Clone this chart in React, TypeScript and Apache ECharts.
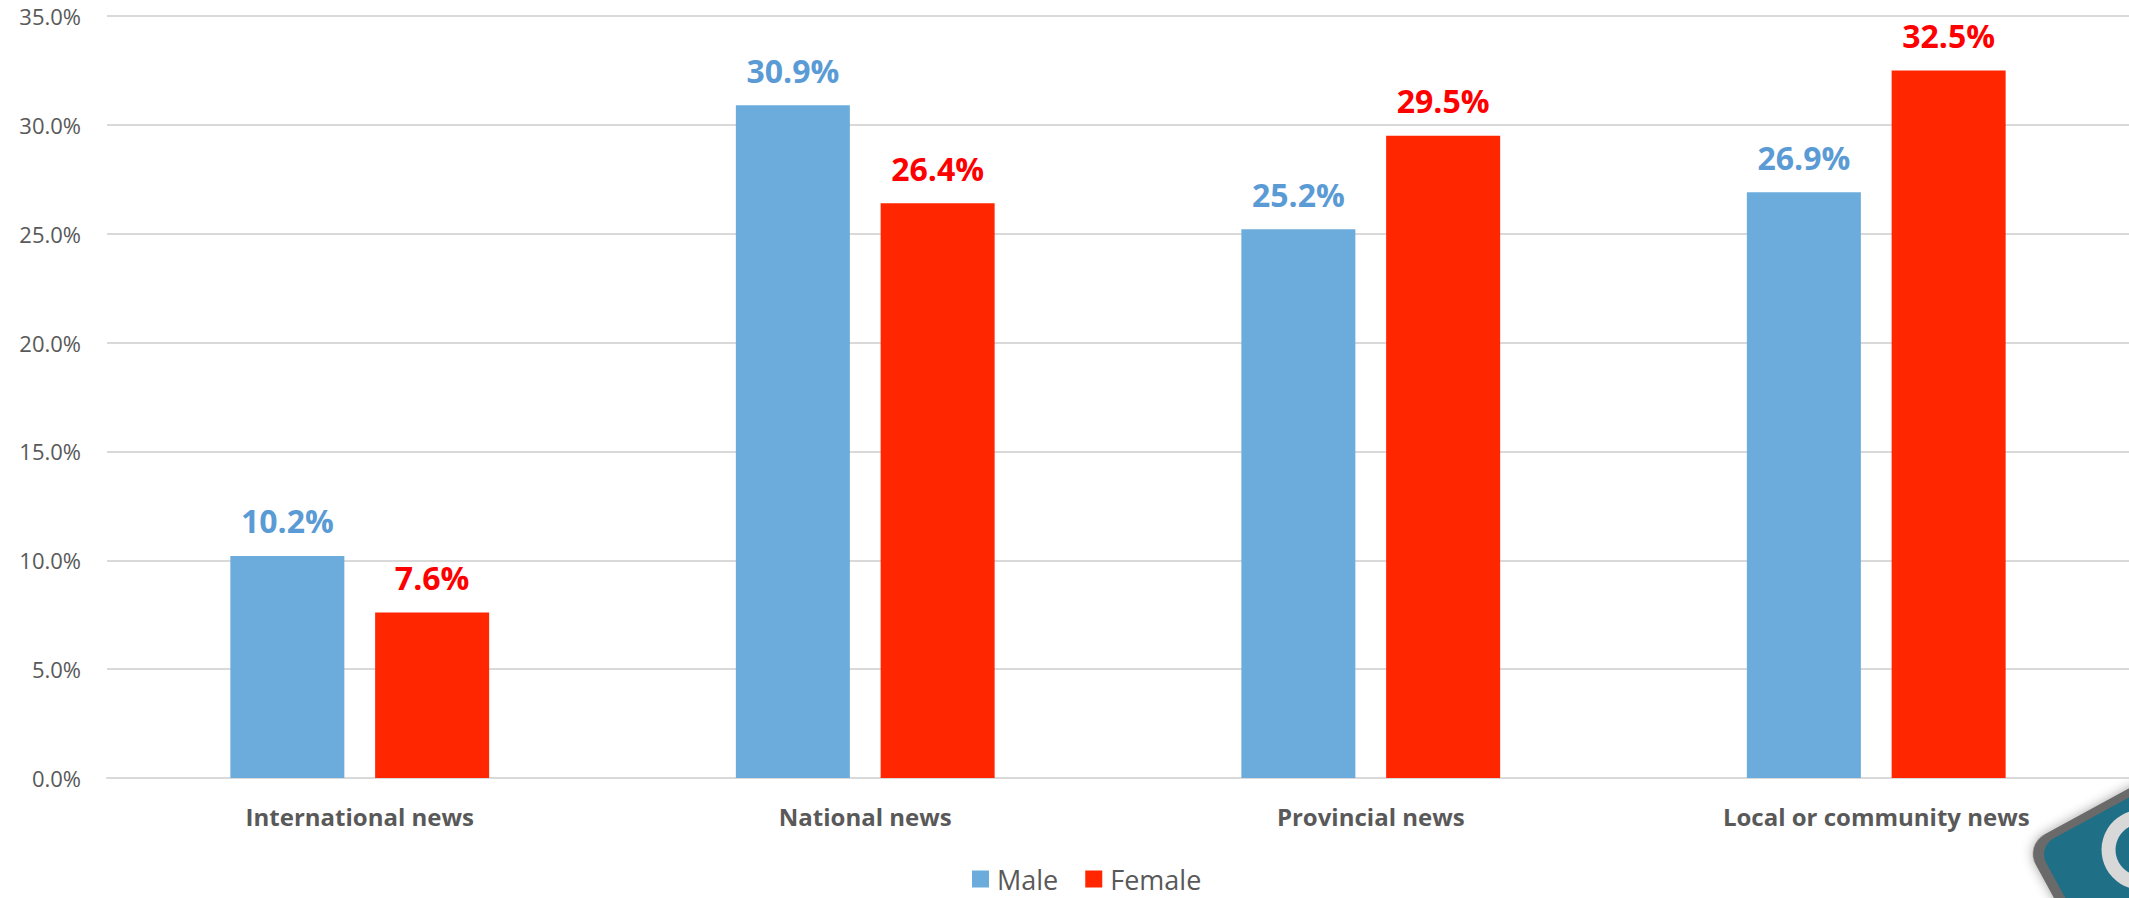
import React, { useEffect, useRef } from "react";
import * as echarts from "echarts";

const categories = ["International news", "National news", "Provincial news", "Local or community news"];
const maleValues = [10.2, 30.9, 25.2, 26.9];
const femaleValues = [7.6, 26.4, 29.5, 32.5];
const seriesNames = ["Male", "Female"];
const yTicks = { min: 0, max: 35, interval: 5 };

const FONT = "'Open Sans', 'Liberation Sans', sans-serif";

export default function App() {
  const ref = useRef<HTMLDivElement>(null);
  useEffect(() => {
    if (!ref.current) return;
    const chart = echarts.init(ref.current, undefined, { renderer: "svg" });
    chart.setOption({
      animation: false,
      backgroundColor: "#ffffff",
      grid: { left: 107, width: 2033, top: 16, bottom: 120, containLabel: false },
      legend: {
        left: 972,
        top: 865,
        padding: 0,
        icon: "rect",
        itemWidth: 17,
        itemHeight: 17,
        itemGap: 27,
        textStyle: {
          fontFamily: FONT,
          fontSize: 27,
          lineHeight: 28,
          color: "#595959",
          padding: [0, 0, 0, 3],
        },
        data: seriesNames,
      },
      xAxis: {
        type: "category",
        data: categories,
        axisLine: { show: true, lineStyle: { color: "#D9D9D9", width: 2 } },
        axisTick: { show: false },
        axisLabel: {
          fontFamily: FONT,
          fontSize: 24,
          fontWeight: "bold",
          color: "#595959",
          margin: 26,
        },
      },
      yAxis: {
        type: "value",
        min: yTicks.min,
        max: yTicks.max,
        interval: yTicks.interval,
        axisLine: { show: false },
        axisTick: { show: false },
        splitLine: { lineStyle: { color: "#D9D9D9", width: 2 } },
        axisLabel: {
          fontFamily: FONT,
          fontSize: 22,
          color: "#595959",
          margin: 26,
          formatter: (v: number) => v.toFixed(1) + "%",
        },
      },
      series: [
        {
          name: seriesNames[0],
          type: "bar",
          data: maleValues,
          barWidth: 114,
          barGap: "27%",
          itemStyle: { color: "#6CACDD" },
          label: {
            show: true,
            position: "top",
            distance: 19,
            fontFamily: FONT,
            fontSize: 32,
            fontWeight: "bold",
            color: "#5B9BD5",
            formatter: (p: any) => Number(p.value).toFixed(1) + "%",
          },
        },
        {
          name: seriesNames[1],
          type: "bar",
          data: femaleValues,
          barWidth: 114,
          barGap: "27%",
          itemStyle: { color: "#FF2600" },
          label: {
            show: true,
            position: "top",
            distance: 19,
            fontFamily: FONT,
            fontSize: 32,
            fontWeight: "bold",
            color: "#FF0000",
            formatter: (p: any) => Number(p.value).toFixed(1) + "%",
          },
        },
      ],
      graphic: [
        {
          type: "group",
          x: 2025,
          y: 845,
          rotation: 0.5,
          children: [
            {
              type: "rect",
              shape: { x: 0, y: 0, width: 160, height: 120, r: 22 },
              style: { fill: "#6b6b6b", shadowBlur: 12, shadowColor: "rgba(0,0,0,0.35)" },
            },
            {
              type: "rect",
              shape: { x: 10, y: 8, width: 145, height: 110, r: 18 },
              style: { fill: "#1f6f86" },
            },
            {
              type: "ring",
              shape: { cx: 100, cy: 60, r: 40, r0: 26 },
              style: { fill: "#d8d8d8" },
            },
          ],
        },
      ],
    });
    return () => chart.dispose();
  }, []);
  return (
    <div
      ref={ref}
      style={{ position: "absolute", left: 0, top: 0, width: 2129, height: 898, overflow: "hidden" }}
    />
  );
}
